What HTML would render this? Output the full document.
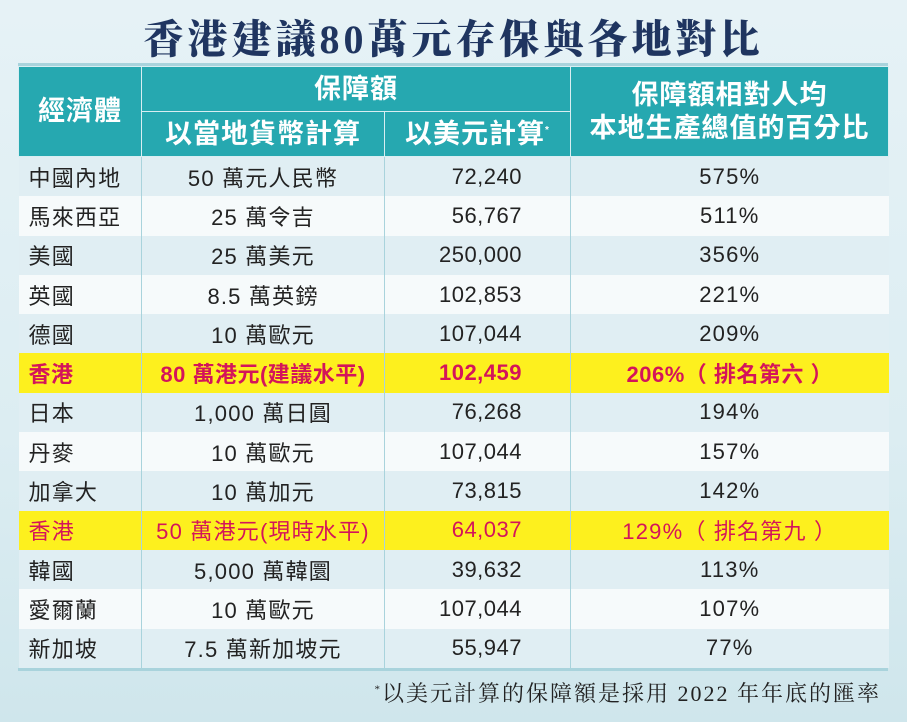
<!DOCTYPE html>
<html><head><meta charset="utf-8"><style>
body{margin:0;width:907px;height:722px;overflow:hidden;background:linear-gradient(180deg,#e6f2f6 0%,#dcedf2 60%,#cfe6ec 100%);font-family:"Liberation Sans","Noto Sans CJK TC",sans-serif;position:relative}
.title{position:absolute;top:8px;left:0;width:907px;text-align:center;font-family:"Liberation Serif","Noto Serif CJK SC",serif;font-weight:900;font-size:40px;color:#1f3560;letter-spacing:4px}
.tline{position:absolute;left:18px;top:63px;width:870px;height:3px;background:#a9d3dc}
table{position:absolute;left:18px;top:66px;width:870px;border-collapse:collapse;table-layout:fixed}
th{background:#26a8b0;color:#fff;font-weight:bold;font-size:27px;border:1.5px solid #d8eef2;padding:0;line-height:1.2;letter-spacing:1px}
td{font-size:22px;color:#222;height:39.3px;padding:0;border-left:1.5px solid #a9d3dc;border-right:1.5px solid #a9d3dc;letter-spacing:1.2px}
tr.a td{background:#e0eef3}
tr.b td{background:#f6fafb}
tr.y td{background:#fdf01e;color:#d4145a}
tr.y.bold td{font-weight:bold;letter-spacing:0.5px}
td.c1{padding-left:10px;border-left:none}
td.c2{text-align:center}
td.c3{text-align:right;padding-right:48px;letter-spacing:0.5px}
td.c4{text-align:center;border-right:none}
.bline{position:absolute;left:18px;top:668px;width:870px;height:3px;background:#a9d3dc}
.foot{position:absolute;top:677px;right:26px;font-family:"Liberation Serif","Noto Serif CJK SC",serif;font-size:22px;color:#222;letter-spacing:2px}
</style></head><body>
<div class="title">香港建議80萬元存保與各地對比</div>
<div class="tline"></div>
<table>
<colgroup><col style="width:123px"><col style="width:243px"><col style="width:186px"><col style="width:318px"></colgroup>
<tr><th rowspan="2" style="height:89px">經濟體</th><th colspan="2" style="height:44px">保障額</th><th rowspan="2">保障額相對人均<br>本地生產總值的百分比</th></tr>
<tr><th style="height:44px">以當地貨幣計算</th><th>以美元計算<sup style="font-size:10px">*</sup></th></tr>
<tr class="a"><td class="c1">中國內地</td><td class="c2">50 萬元人民幣</td><td class="c3">72,240</td><td class="c4">575%</td></tr>
<tr class="b"><td class="c1">馬來西亞</td><td class="c2">25 萬令吉</td><td class="c3">56,767</td><td class="c4">511%</td></tr>
<tr class="a"><td class="c1">美國</td><td class="c2">25 萬美元</td><td class="c3">250,000</td><td class="c4">356%</td></tr>
<tr class="b"><td class="c1">英國</td><td class="c2">8.5 萬英鎊</td><td class="c3">102,853</td><td class="c4">221%</td></tr>
<tr class="a"><td class="c1">德國</td><td class="c2">10 萬歐元</td><td class="c3">107,044</td><td class="c4">209%</td></tr>
<tr class="y bold"><td class="c1">香港</td><td class="c2">80 萬港元(建議水平)</td><td class="c3">102,459</td><td class="c4">206%（ 排名第六 ）</td></tr>
<tr class="a"><td class="c1">日本</td><td class="c2">1,000 萬日圓</td><td class="c3">76,268</td><td class="c4">194%</td></tr>
<tr class="b"><td class="c1">丹麥</td><td class="c2">10 萬歐元</td><td class="c3">107,044</td><td class="c4">157%</td></tr>
<tr class="a"><td class="c1">加拿大</td><td class="c2">10 萬加元</td><td class="c3">73,815</td><td class="c4">142%</td></tr>
<tr class="y"><td class="c1">香港</td><td class="c2">50 萬港元(現時水平)</td><td class="c3">64,037</td><td class="c4">129%（ 排名第九 ）</td></tr>
<tr class="a"><td class="c1">韓國</td><td class="c2">5,000 萬韓圜</td><td class="c3">39,632</td><td class="c4">113%</td></tr>
<tr class="b"><td class="c1">愛爾蘭</td><td class="c2">10 萬歐元</td><td class="c3">107,044</td><td class="c4">107%</td></tr>
<tr class="a"><td class="c1">新加坡</td><td class="c2">7.5 萬新加坡元</td><td class="c3">55,947</td><td class="c4">77%</td></tr>
</table>
<div class="bline"></div>
<div class="foot"><sup style="font-size:11px">*</sup>以美元計算的保障額是採用 2022 年年底的匯率</div>
</body></html>
